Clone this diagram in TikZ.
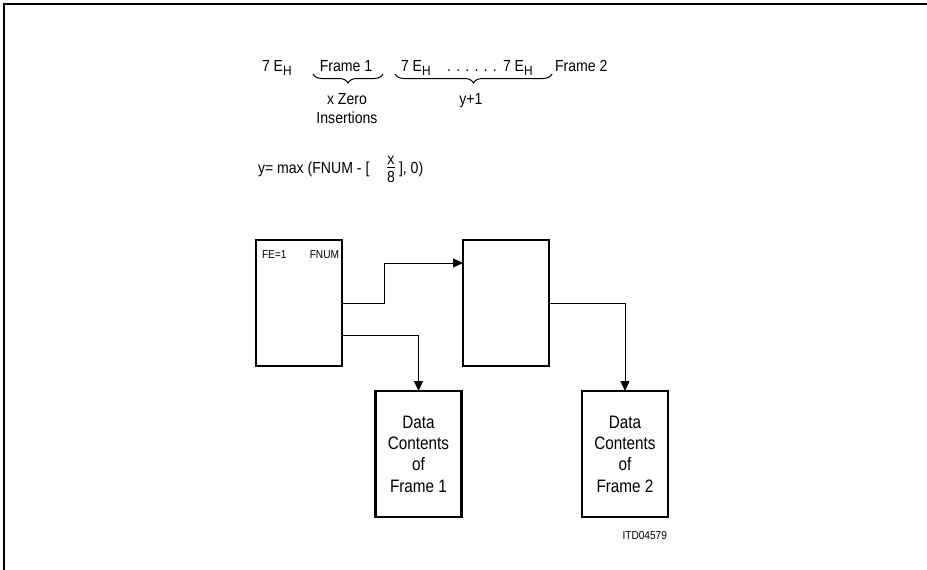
\documentclass[tikz,border=0pt]{standalone}
\usepackage{fontspec}
\setmainfont{Liberation Sans}[FakeStretch=0.88]
\newfontfamily\boxfont{Liberation Sans}[FakeStretch=0.85]
\usetikzlibrary{arrows.meta,decorations.pathreplacing}
\newcommand{\subH}{\raisebox{-4.5pt}{\fontsize{13.5}{13.5}\selectfont H}}
\begin{document}
\begin{tikzpicture}[x=1pt,y=-1pt,
  txt/.style={inner sep=0,outer sep=0,font=\fontsize{16}{18}\selectfont},
  blk/.style={draw,line width=2.5pt,minimum width=86pt,minimum height=126pt,inner sep=0,outer sep=0},
  dat/.style={blk,align=center,font=\boxfont\fontsize{18}{21.3}\selectfont},
  small/.style={inner sep=0,outer sep=0,font=\fontsize{11.5}{13}\selectfont},
  arr/.style={line width=1pt,-{Triangle[length=10pt,width=9pt]}},
  brc/.style={decorate,decoration={brace,mirror,amplitude=9pt},line width=1pt}
]
\useasboundingbox (0,0) rectangle (927,570);
% frame
\draw[line width=1.5pt] (4,570) -- (4,4) -- (927,4);

% top sequence
\node[txt,anchor=base west] (s1) at (262,71) {7 E\subH};
\node[txt,anchor=base] (f1) at (346,71) {Frame 1};
\node[txt,anchor=base west] (s2) at (401,71) {7 E\subH};
\node[txt,anchor=base] (dots) at (472,71) {. . . . . .};
\node[txt,anchor=base west] (s3) at (503,71) {7 E\subH};
\node[txt,anchor=base west] (f2) at (555,71) {Frame 2};

\coordinate (b1l) at (313,74);
\coordinate (b1r) at (383,74);
\coordinate (b2l) at (395,74);
\coordinate (b2r) at (552,74);
\draw[brc] (b1l) -- (b1r);
\draw[brc] (b2l) -- (b2r);

\node[txt,anchor=base] (xz) at (347,104) {x Zero};
\node[txt,anchor=base] (ins) at (347,123) {Insertions};
\node[txt,anchor=base] (y1) at (471,104) {y+1};

% formula
\node[txt,anchor=base west] (fa) at (258,173) {y= max (FNUM - [};
\node[txt,anchor=base] (fx) at (391,164) {x};
\node[txt,anchor=base] (f8) at (391,182) {8};
\coordinate (barl) at (387,167);
\coordinate (barr) at (395,167);
\draw[line width=0.8pt] (barl) -- (barr);
\node[txt,anchor=base west] (fb) at (399,173) {], 0)};

% blocks
\node[blk] (A) at (299,303) {};
\node[blk] (B) at (506,303) {};
\node[dat] (C) at (418.5,454) {Data\\Contents\\of\\Frame 1};
\node[dat] (D) at (625,454) {Data\\Contents\\of\\Frame 2};

\node[small,anchor=base west] (fe) at (262,258) {FE=1};
\node[small,anchor=base east] (fn) at (339,258) {FNUM};
\node[small,anchor=base east] (itd) at (667,539) {ITD04579};

% connectors
\draw[arr] (A.east) -- ++(42,0) |- ([yshift=40pt]B.west);
\draw[arr] ([yshift=-32pt]A.east) -| (C.north);
\draw[arr] (B.east) -| (D.north);
\end{tikzpicture}
\end{document}
